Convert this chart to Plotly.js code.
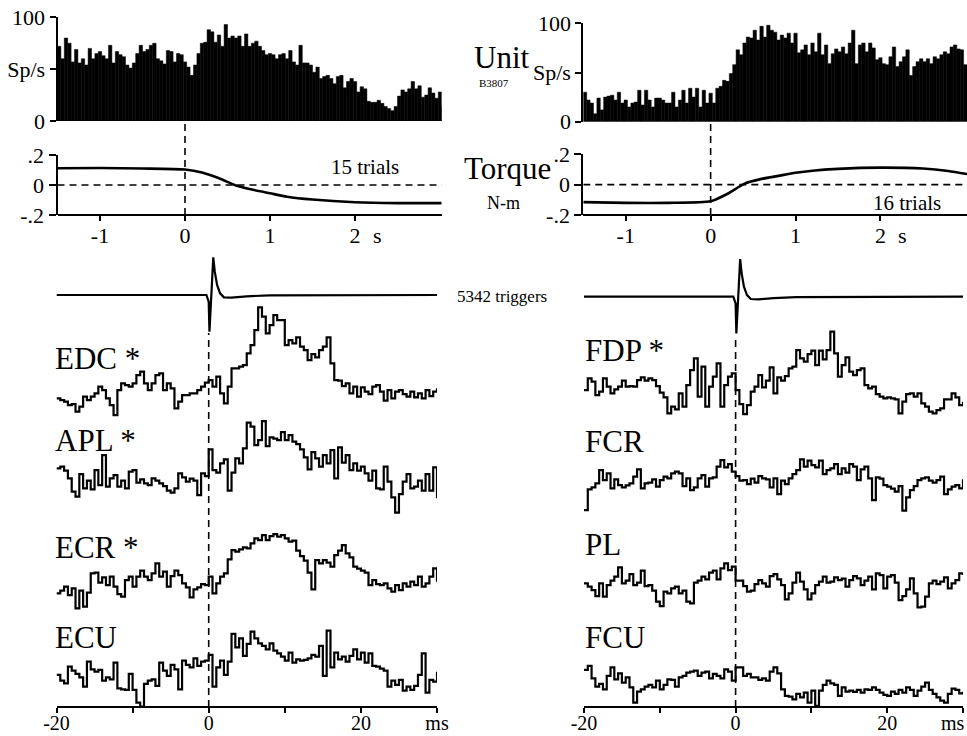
<!DOCTYPE html>
<html>
<head>
<meta charset="utf-8">
<script src="https://cdn.plot.ly/plotly-3.0.1.min.js"></script>
<style>html,body{margin:0;padding:0;background:#fff;}#chart{width:967px;height:736px;}</style>
</head>
<body>
<div id="chart"></div>
<script>
// ---------------- DATA ----------------
// Peri-event histograms (spikes/s), bins of 0.04 s starting at -1.5 s
const histBinStart = -1.5;
const histBinWidth = 0.04;
const histLeft = [72,60,80,75,57,69,56,60,54,70,60,65,67,63,60,73,56,67,64,62,
  54,51,56,65,73,67,69,73,75,60,58,55,68,67,57,65,64,57,52,44,
  54,65,75,76,88,86,76,83,72,93,80,82,80,82,72,84,72,75,77,72,
  68,64,65,64,60,64,65,60,68,57,54,73,56,56,54,47,52,41,43,44,
  41,36,43,44,32,38,41,38,28,33,31,19,18,18,20,17,14,12,10,14,
  24,30,28,31,38,31,34,23,25,32,27,22,28,14];
const histRight = [30,22,19,8,24,12,25,26,27,22,30,19,22,15,19,20,32,17,32,22,
  15,24,24,22,19,19,30,15,22,32,19,34,25,34,15,32,19,29,19,34,
  36,42,41,49,58,73,68,80,86,85,93,83,97,86,98,93,91,83,88,85,
  90,80,90,70,73,78,68,80,71,90,68,78,59,69,74,71,76,69,80,93,
  59,78,80,71,80,75,63,65,59,58,66,76,56,61,66,73,47,56,61,64,
  61,64,59,66,64,68,71,69,76,78,74,73,58];

// Torque (N-m)
const torqueTimes = [-1.5,-1.0,-0.5,0,0.2,0.4,0.6,0.8,1.0,1.2,1.5,2.0,2.5,2.8,3.02];
const torqueLeft  = [0.112,0.113,0.110,0.103,0.083,0.045,-0.003,-0.032,-0.055,-0.078,-0.097,-0.115,-0.121,-0.121,-0.121];
const torqueRight = [-0.115,-0.120,-0.120,-0.110,-0.060,0.007,0.038,0.058,0.078,0.092,0.104,0.112,0.106,0.090,0.070];

// Spike-triggered average of the unit (arbitrary units)
const trigTimes  = [-20,-0.3,0.0,0.1,0.6,0.8,1.1,1.5,2.0,3.0,5.0,8.0,30];
const trigValues = [0,0,-20,-110,113,70,30,5,-7,-8,-4,-1,0];

// Spike-triggered averages of EMG, 0.5 ms bins from -20 to 30 ms (arbitrary units)
const emgStart = -20, emgBin = 0.5;
const EDC = [55,50,45,35,38,15,30,60,50,60,70,90,80,55,35,5,80,100,95,90,
  100,125,135,100,80,100,125,130,80,100,85,25,45,65,65,70,70,80,90,102,
  110,90,120,70,40,90,145,145,150,155,190,215,260,328,300,250,275,305,290,290,
  215,230,220,238,210,200,170,188,178,200,210,238,160,110,108,92,100,70,90,60,
  88,75,68,90,95,75,48,80,55,75,80,68,60,75,58,70,55,80,62,75,85];
const APL = [145,150,138,115,75,60,128,85,108,82,140,95,185,90,115,125,90,108,85,135,
  140,102,112,100,95,115,108,100,92,78,72,85,130,118,105,114,108,65,130,122,
  202,140,132,160,172,78,132,175,160,205,282,270,215,230,287,212,238,234,230,254,
  230,245,225,218,202,178,142,194,175,150,185,160,200,115,208,162,185,140,160,138,
  150,130,108,138,85,82,150,105,58,12,68,105,128,85,90,108,78,128,78,148,55];
const ECR = [55,63,75,50,70,10,63,15,57,115,117,87,103,80,105,75,53,45,95,105,
  75,105,123,105,95,115,145,105,120,75,107,123,110,85,73,43,67,73,83,80,
  105,55,85,105,115,157,185,180,187,193,190,205,220,215,230,215,227,233,225,230,
  220,210,213,183,167,153,117,67,155,145,155,147,135,170,183,200,175,163,135,129,
  123,117,80,95,83,80,85,70,60,80,65,85,75,90,80,105,75,85,105,130,90];
const ECU = [100,83,75,125,113,103,93,65,140,117,110,115,83,93,87,137,60,57,55,103,
  55,17,5,73,83,87,67,137,113,97,130,117,57,143,130,123,150,127,140,143,
  160,65,123,143,100,140,223,183,210,157,193,230,210,195,187,177,195,173,165,155,
  143,167,137,147,143,145,150,160,155,187,97,233,123,167,147,155,140,157,177,147,
  167,137,165,127,125,119,113,65,83,70,85,53,65,55,67,100,165,47,85,80,110];
const FDP = [80,115,105,65,75,115,90,70,82,90,108,90,92,90,110,118,108,115,110,92,
  72,58,10,30,22,70,30,95,140,175,60,150,30,90,120,160,30,95,120,130,
  80,38,8,35,75,90,125,88,108,148,70,118,108,122,145,150,200,175,165,188,
  198,155,198,172,200,255,190,120,155,178,135,125,140,145,95,85,90,68,60,55,
  58,55,52,10,45,68,70,60,70,40,30,15,10,20,25,52,52,70,58,35,45];
const FCR = [20,82,88,100,140,110,130,85,112,95,88,94,100,120,142,85,100,102,112,90,
  110,120,115,130,135,130,92,115,80,88,115,125,90,115,118,150,170,148,158,135,
  122,108,110,98,114,102,122,115,112,88,115,68,108,98,115,128,140,172,150,168,
  155,148,168,128,140,145,158,128,145,132,158,150,110,142,150,115,50,118,114,95,
  90,84,75,92,18,58,80,92,110,115,118,108,102,110,120,68,82,90,95,85,112];
const PL = [85,75,65,47,85,45,80,93,105,133,85,93,113,80,87,123,77,80,63,30,
  17,60,55,70,75,55,63,30,25,87,93,105,97,117,123,97,130,145,125,135,
  93,93,77,60,63,83,95,85,75,107,113,97,80,37,55,87,117,90,67,37,
  55,80,90,105,87,90,103,95,99,75,95,107,100,80,93,105,67,115,110,70,
  105,110,87,35,47,67,100,55,13,15,45,85,93,83,90,103,70,85,95,115,110];
const FCU = [115,127,90,65,73,57,97,123,87,105,77,93,63,17,50,57,65,70,63,83,
  57,70,87,85,65,93,97,107,110,113,97,107,110,90,103,97,90,117,110,83,
  123,123,97,103,93,93,85,90,83,110,123,105,57,37,35,27,43,33,47,17,
  53,7,53,70,83,75,70,37,63,50,53,49,55,47,57,55,63,55,47,40,
  37,50,43,55,47,63,55,37,53,65,77,55,43,33,23,17,43,59,55,45,50];

const leftMuscles  = ['EDC *','APL *','ECR *','ECU'];
const rightMuscles = ['FDP *','FCR','PL','FCU'];
const leftSeries   = [EDC, APL, ECR, ECU];
const rightSeries  = [FDP, FCR, PL, FCU];

const secTickVals = [-1,0,1,2], secTickText = ['-1','0','1','2'];
const msTickVals = [-20,-10,0,10,20,30], msTickText = ['-20','','0','','20','ms'];
const msTickTextRight = ['-20','','0','','20',''];
const rateTickVals = [0,50,100], rateTickText = ['0','Sp/s','100'];
const torqueTickVals = [-0.2,0,0.2], torqueTickText = ['-.2','0','.2'];

// ---------------- LAYOUT HELPERS ----------------
const W = 967, H = 736;
const FONT = 'Liberation Serif, serif';
const px = x => x / W;
const py = y => 1 - y / H;

const histX = (arr) => arr.map((_, k) => histBinStart + histBinWidth * (k + 0.5));
const emgX = (arr) => arr.map((_, k) => emgStart + emgBin * k);

function axisStyle(extra) {
  return Object.assign({
    showline: true, linecolor: 'black', linewidth: 2,
    ticks: 'outside', ticklen: 6, tickwidth: 2, tickcolor: 'black',
    showgrid: false, zeroline: false, fixedrange: true,
    tickfont: {family: FONT, size: 22, color: 'black'}
  }, extra);
}
// vertical band for a trace axis: zero at pixel zeroPx, 3 units per pixel
function band(zeroPx, lo, hi, anchor) {
  return {domain: [py(zeroPx - lo / 3), py(zeroPx - hi / 3)], range: [lo, hi],
          visible: false, fixedrange: true, anchor: anchor};
}

const layout = {
  width: W, height: H, margin: {l: 0, r: 0, t: 0, b: 0},
  paper_bgcolor: 'white', plot_bgcolor: 'rgba(0,0,0,0)',
  showlegend: false, hovermode: false, bargap: 0,
  font: {family: FONT, size: 22, color: 'black'},
  xaxis: axisStyle({domain: [px(57.5), px(441.7)], range: [-1.5, 3.02], anchor: 'free', position: py(215),
                    tickvals: secTickVals, ticktext: secTickText, ticklen: 5, ticklabelstandoff: -4}),
  xaxis2: axisStyle({domain: [px(583.3), 1], range: [-1.5, 3.02], anchor: 'free', position: py(215),
                    tickvals: secTickVals, ticktext: secTickText, ticklen: 5, ticklabelstandoff: -4}),
  xaxis3: axisStyle({domain: [px(56.5), px(437)], range: [-20, 30], anchor: 'free', position: py(707),
                    tickvals: msTickVals, ticktext: msTickText, ticklen: 5, ticklabelstandoff: -7,
                    tickfont: {family: FONT, size: 20, color: 'black'}}),
  xaxis4: axisStyle({domain: [px(584), px(963)], range: [-20, 30], anchor: 'free', position: py(707),
                    tickvals: msTickVals, ticktext: msTickTextRight, ticklen: 5, ticklabelstandoff: -7,
                    tickfont: {family: FONT, size: 20, color: 'black'}}),
  yaxis: axisStyle({domain: [py(121), py(17.3)], range: [0, 100], anchor: 'x',
                    tickvals: rateTickVals, ticktext: rateTickText}),
  yaxis2: axisStyle({domain: [py(215), py(155)], range: [-0.2, 0.2], anchor: 'x',
                    tickvals: torqueTickVals, ticktext: torqueTickText, ticklen: 7}),
  yaxis3: axisStyle({domain: [py(121.7), py(23.3)], range: [0, 100], anchor: 'x2',
                    tickvals: rateTickVals, ticktext: rateTickText}),
  yaxis4: axisStyle({domain: [py(215), py(154.3)], range: [-0.2, 0.2], anchor: 'x2',
                    tickvals: torqueTickVals, ticktext: torqueTickText, ticklen: 7}),
  yaxis5: band(295, -130, 130, 'x3'),
  yaxis6: band(416.7, -20, 360, 'x3'),
  yaxis7: band(516.7, -20, 360, 'x3'),
  yaxis8: band(611.7, -20, 360, 'x3'),
  yaxis9: band(708.3, -20, 360, 'x3'),
  yaxis10: band(296.7, -130, 130, 'x4'),
  yaxis11: band(416.7, -20, 360, 'x4'),
  yaxis12: band(516.7, -20, 360, 'x4'),
  yaxis13: band(611.7, -20, 360, 'x4'),
  yaxis14: band(708.3, -20, 360, 'x4'),
  shapes: [],
  annotations: []
};

const dashed = {color: 'black', width: 1.6, dash: '7px,5px'};
layout.shapes.push(
  {type: 'line', xref: 'x', yref: 'paper', x0: 0, x1: 0, y0: py(215), y1: py(121), line: dashed},
  {type: 'line', xref: 'x2', yref: 'paper', x0: 0, x1: 0, y0: py(215), y1: py(122), line: dashed},
  {type: 'line', xref: 'x', yref: 'y2', x0: -1.5, x1: 3.02, y0: 0, y1: 0, line: dashed},
  {type: 'line', xref: 'x2', yref: 'y4', x0: -1.5, x1: 3.02, y0: 0, y1: 0, line: dashed},
  {type: 'line', xref: 'x3', yref: 'paper', x0: 0, x1: 0, y0: py(707), y1: py(333), line: dashed},
  {type: 'line', xref: 'x4', yref: 'paper', x0: 0, x1: 0, y0: py(707), y1: py(335), line: dashed}
);

function note(text, x, y, size, xanchor) {
  layout.annotations.push({text: text, xref: 'paper', yref: 'paper', x: px(x), y: py(y),
    xanchor: xanchor || 'center', yanchor: 'middle', showarrow: false,
    font: {family: FONT, size: size, color: 'black'}});
}
note('Unit', 502, 57, 31);
note('B3807', 494, 83, 11);
note('Torque', 507, 168, 31);
note('N-m', 503, 203, 18);
note('15 trials', 365, 167, 21);
note('16 trials', 907, 203, 21);
note('s', 377, 235, 22);
note('s', 902, 235, 22);
note('5342 triggers', 455, 296, 17, 'left');
note('ms', 967, 723, 20, 'right');
const leftLabelY = [358, 440, 547, 637];
const rightLabelY = [350, 442, 544, 637];
leftMuscles.forEach((m, i) => note(m, 53, leftLabelY[i], 31, 'left'));
rightMuscles.forEach((m, i) => note(m, 583, rightLabelY[i], 31, 'left'));

// ---------------- TRACES ----------------
const traces = [];
const barMarker = {color: 'black', line: {color: 'black', width: 0.5}};
traces.push({type: 'bar', x: histX(histLeft), y: histLeft, width: histBinWidth, xaxis: 'x', yaxis: 'y', marker: barMarker});
traces.push({type: 'bar', x: histX(histRight), y: histRight, width: histBinWidth, xaxis: 'x2', yaxis: 'y3', marker: barMarker});
const torqueLine = {color: 'black', width: 2.6, shape: 'spline', smoothing: 0.6};
traces.push({type: 'scatter', mode: 'lines', x: torqueTimes, y: torqueLeft, xaxis: 'x', yaxis: 'y2', line: torqueLine});
traces.push({type: 'scatter', mode: 'lines', x: torqueTimes, y: torqueRight, xaxis: 'x2', yaxis: 'y4', line: torqueLine});
const trigLine = {color: 'black', width: 2.2};
traces.push({type: 'scatter', mode: 'lines', x: trigTimes, y: trigValues, xaxis: 'x3', yaxis: 'y5', line: trigLine});
traces.push({type: 'scatter', mode: 'lines', x: trigTimes, y: trigValues, xaxis: 'x4', yaxis: 'y10', line: trigLine});
const emgLine = {color: 'black', width: 2.2, shape: 'hv'};
leftSeries.forEach((s, i) => traces.push({type: 'scatter', mode: 'lines', x: emgX(s), y: s,
  xaxis: 'x3', yaxis: 'y' + (6 + i), line: emgLine}));
rightSeries.forEach((s, i) => traces.push({type: 'scatter', mode: 'lines', x: emgX(s), y: s,
  xaxis: 'x4', yaxis: 'y' + (11 + i), line: emgLine}));

Plotly.newPlot('chart', traces, layout, {staticPlot: true, displayModeBar: false});
</script>
</body>
</html>
